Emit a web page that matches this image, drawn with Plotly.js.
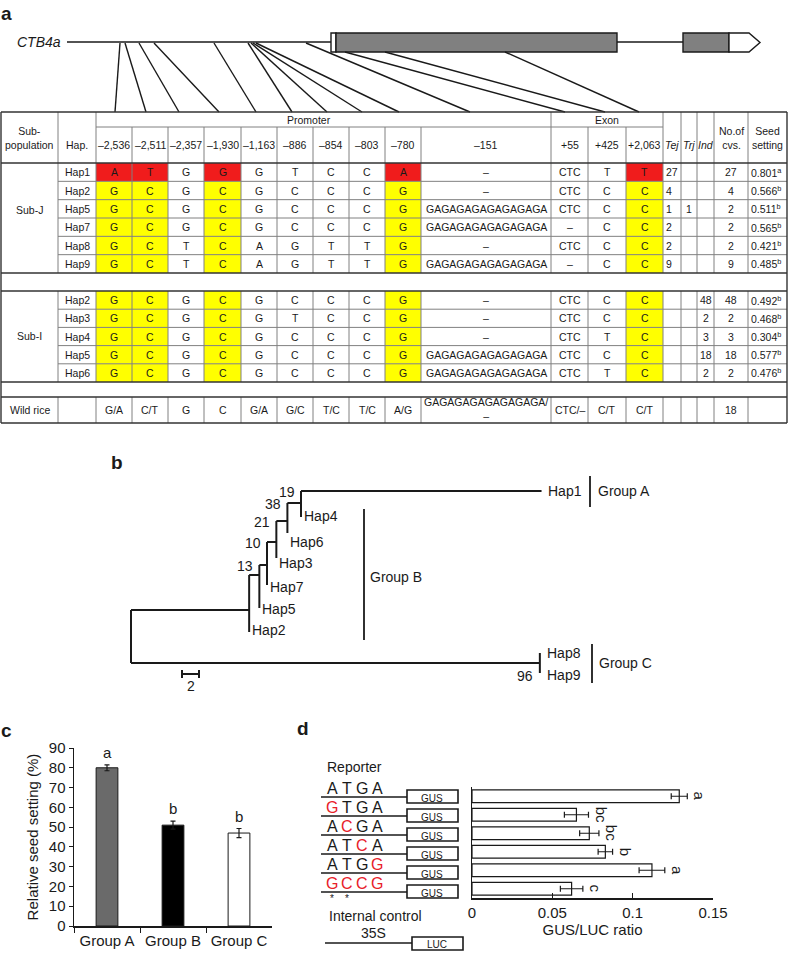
<!DOCTYPE html>
<html>
<head>
<meta charset="utf-8">
<script src="https://cdn.plot.ly/plotly-3.0.1.min.js"></script>
<style>html,body{margin:0;padding:0;background:#fff}#fig{width:788px;height:954px}</style>
</head>
<body>
<div id="fig"></div>
<script>
// ---------- a: haplotype table ----------
var sitePos = ["–2,536", "–2,511", "–2,357", "–1,930", "–1,163", "–886", "–854", "–803", "–780", "–151", "+55", "+425", "+2,063"];
var GA = "GAGAGAGAGAGAGAGA";
var keySites = [0, 1, 3, 8, 12];

var subJHap = ["Hap1", "Hap2", "Hap5", "Hap7", "Hap8", "Hap9"];
var subJAllele = [
  ["A", "T", "G", "G", "G", "T", "C", "C", "A", "–", "CTC", "T", "T"],
  ["G", "C", "G", "C", "G", "C", "C", "C", "G", "–", "CTC", "C", "C"],
  ["G", "C", "G", "C", "G", "C", "C", "C", "G", GA, "CTC", "C", "C"],
  ["G", "C", "G", "C", "G", "C", "C", "C", "G", GA, "–", "C", "C"],
  ["G", "C", "T", "C", "A", "G", "T", "T", "G", "–", "CTC", "C", "C"],
  ["G", "C", "T", "C", "A", "G", "T", "T", "G", GA, "–", "C", "C"]
];
var subJTej = [27, 4, 1, 2, 2, 9];
var subJTrj = [null, null, 1, null, null, null];
var subJInd = [null, null, null, null, null, null];
var subJCvs = [27, 4, 2, 2, 2, 9];
var subJSeed = [0.801, 0.566, 0.511, 0.565, 0.421, 0.485];
var subJSig = ["a", "b", "b", "b", "b", "b"];

var subIHap = ["Hap2", "Hap3", "Hap4", "Hap5", "Hap6"];
var subIAllele = [
  ["G", "C", "G", "C", "G", "C", "C", "C", "G", "–", "CTC", "C", "C"],
  ["G", "C", "G", "C", "G", "T", "C", "C", "G", "–", "CTC", "C", "C"],
  ["G", "C", "G", "C", "G", "C", "C", "C", "G", "–", "CTC", "T", "C"],
  ["G", "C", "G", "C", "G", "C", "C", "C", "G", GA, "CTC", "C", "C"],
  ["G", "C", "G", "C", "G", "C", "C", "C", "G", GA, "CTC", "T", "C"]
];
var subITej = [null, null, null, null, null];
var subITrj = [null, null, null, null, null];
var subIInd = [48, 2, 3, 18, 2];
var subICvs = [48, 2, 3, 18, 2];
var subISeed = [0.492, 0.468, 0.304, 0.577, 0.476];
var subISig = ["b", "b", "b", "b", "b"];

var wildAllele = ["G/A", "C/T", "G", "C", "G/A", "G/C", "T/C", "T/C", "A/G", GA + "/<br>–", "CTC/–", "C/T", "C/T"];
var wildCvs = 18;

// ---------- b: tree (branch lengths, bootstrap) ----------
var nodeDist = [20.0, 18.4, 17.1, 16.0, 15.1, 13.9, 0, 48.1];
var nodeBoot = ["19", "38", "21", "10", "13", "", "", "96"];
var nodeTip = ["Hap4", "Hap6", "Hap3", "Hap7", "Hap5", "Hap2"];
var hap1Dist = 48.3;

// ---------- c: seed setting ----------
var seedGroup = ["Group A", "Group B", "Group C"];
var seedMean = [80, 51, 47];
var seedErr = [1.5, 2.0, 2.3];
var seedLetter = ["a", "b", "b"];
var seedFill = ["#6a6a6a", "#000000", "#ffffff"];

// ---------- d: GUS/LUC ----------
var reporterSeq = ["ATGA", "GTGA", "ACGA", "ATCA", "ATGG", "GCCG"];
var gusLuc = [0.129, 0.065, 0.073, 0.083, 0.112, 0.062];
var gusLucErr = [0.005, 0.0075, 0.006, 0.0045, 0.008, 0.007];
var gusLucLetter = ["a", "bc", "bc", "b", "a", "c"];

// ======================================================================
var FONT = "'Liberation Sans', Arial, Helvetica, sans-serif";
var INK = "#1a1a1a", GRID = "#808080", RED = "#f01c1c", YEL = "#ffff00";
var shapes = [], ann = [];

function seg(x0, y0, x1, y1, w, c) {
  shapes.push({type: "line", xref: "x", yref: "y", x0: x0, y0: y0, x1: x1, y1: y1,
    line: {color: c || INK, width: w || 1}});
}
function box(x0, y0, x1, y1, fill, lw, layer) {
  shapes.push({type: "rect", xref: "x", yref: "y", x0: x0, y0: y0, x1: x1, y1: y1,
    fillcolor: fill, line: {color: lw ? INK : "rgba(0,0,0,0)", width: lw || 0}, layer: layer || "above"});
}
function txt(x, y, s, o) {
  o = o || {};
  ann.push({xref: o.xref || "x", yref: o.yref || "y", x: x, y: y, text: String(s), showarrow: false,
    xanchor: o.xa || "center", yanchor: o.ya || "middle", xshift: o.dx || 0, yshift: o.dy || 0,
    textangle: o.angle || 0, borderpad: 0,
    font: {family: FONT, size: o.size || 10.5, color: o.color || INK}});
}

// ---- a: gene model ----
txt(0, 13, "<b>a</b>", {xa: "left", size: 19});
txt(62, 42, "<i>CTB4a</i>", {xa: "right", size: 14});
seg(67, 42, 331, 42, 1.6);
seg(617, 42, 683, 42, 1.6);
box(331, 33, 336, 52, "#fff", 1.4);
box(336, 33, 617, 52, "#808080", 1.4);
box(683, 33, 729, 52, "#808080", 1.4);
shapes.push({type: "path", xref: "x", yref: "y", path: "M729,33 L749,33 L760,42.5 L749,52 L729,52 Z",
  fillcolor: "#fff", line: {color: INK, width: 1.4}});

var siteGeneX = [120, 125, 139, 154, 214, 248, 251, 253, 256, 306, 345, 385, 505];
var siteLineEnd = [115, 146, 179, 219, 256, 292, 327, 362, 399, 470, 565, 605, 639];
siteGeneX.forEach(function (gx, k) { seg(gx, gx >= 331 ? 52 : 43, siteLineEnd[k], 112, 1.4); });

// ---- a: table ----
var colX = [1, 58, 96, 132, 168, 204, 241, 277, 313, 349, 385, 421, 551, 588, 626, 663, 681, 697, 714, 748, 787];
var cc = colX.slice(0, -1).map(function (x, i) { return (x + colX[i + 1]) / 2; });
var T0 = 112, TM = 127, TH = 163;

// header
txt(cc[0], 138, "Sub-<br>population");
txt(cc[1], 145, "Hap.");
txt(309, 120, "Promoter");
txt(607, 120, "Exon");
sitePos.forEach(function (p, k) { txt(cc[2 + k], 145, p); });
txt(cc[15], 145, "<i>Tej</i>");
txt(cc[16], 145, "<i>Trj</i>");
txt(cc[17], 145, "<i>Ind</i>");
txt(cc[18], 138, "No.of<br>cvs.");
txt(cc[19], 138, "Seed<br>setting");
seg(colX[2], TM, colX[15], TM, 1, GRID);
[1, 2, 12, 15, 16, 17, 18, 19].forEach(function (k) { seg(colX[k], T0, colX[k], TH, 1, GRID); });
for (var k = 3; k < 15; k++) if (k !== 12) seg(colX[k], TM, colX[k], TH, 1, GRID);

function block(top, h, label, labelY, haps, alleles, tej, trj, ind, cvs, seed, sig) {
  var n = haps.length;
  txt(cc[0], labelY, label);
  for (var i = 0; i < n; i++) {
    var y0 = top + h * i, cy = y0 + h / 2;
    txt(cc[1], cy, haps[i]);
    alleles[i].forEach(function (a, k) {
      if (keySites.indexOf(k) >= 0)
        box(colX[2 + k], y0, colX[3 + k], y0 + h, a === subJAllele[0][k] ? RED : YEL, 0, "below");
      txt(cc[2 + k], cy, a);
    });
    if (tej[i] != null) txt(colX[15] + 2, cy, tej[i], {xa: "left"});
    if (trj[i] != null) txt(cc[16], cy, trj[i]);
    if (ind[i] != null) txt(cc[17], cy, ind[i]);
    txt(cc[18], cy, cvs[i]);
    txt(colX[19] + 2, cy, seed[i].toFixed(3) + "<sup>" + sig[i] + "</sup>", {xa: "left"});
    if (i > 0) seg(colX[1], y0, colX[20], y0, 1, GRID);
  }
  for (var c = 1; c < 20; c++) seg(colX[c], top, colX[c], top + n * h, 1, GRID);
}
block(TH, 110 / 6, "Sub-J", 210, subJHap, subJAllele, subJTej, subJTrj, subJInd, subJCvs, subJSeed, subJSig);
block(291, 91 / 5, "Sub-I", 336, subIHap, subIAllele, subITej, subITrj, subIInd, subICvs, subISeed, subISig);

// wild rice row
txt(cc[0], 410, "Wild rice");
wildAllele.forEach(function (a, k) { txt(cc[2 + k], k === 9 ? 409 : 410, a, {size: 10.5}); });
txt(cc[18], 410, wildCvs);
for (var c = 1; c < 20; c++) seg(colX[c], 397, colX[c], 423, 1, GRID);

[T0, TH, 273, 291, 382, 397, 423].forEach(function (y) { seg(colX[0], y, colX[20], y, 1.4, "#333"); });
seg(colX[0], T0, colX[0], 423, 1.4, "#333");
seg(colX[20], T0, colX[20], 423, 1.4, "#333");

// ---- b: tree ----
txt(117, 462, "<b>b</b>", {size: 19});
var nodeTop = [491, 503, 521, 542, 565, 575, 610, 653];
var nodeBot = [517, 533, 558, 585, 608, 632, 663, 673];
var tipY = [516, 542, 563, 587, 609, 630];
var tx = [], ty = [];
function tl(xa, ya, xb, yb) { tx.push(xa, xb, null); ty.push(ya, yb, null); }
nodeDist.forEach(function (d, i) { tl(d, nodeTop[i], d, nodeBot[i]); });
tl(nodeDist[0], nodeTop[0], hap1Dist, nodeTop[0]);
for (var i = 1; i <= 5; i++) tl(nodeDist[i], nodeTop[i], nodeDist[i - 1], nodeTop[i]);
tl(nodeDist[6], nodeTop[6], nodeDist[5], nodeTop[6]);
tl(nodeDist[6], nodeBot[6], nodeDist[7], nodeBot[6]);
// scale bar (2 units)
tl(6, 674, 8, 674); tl(6, 670, 6, 678); tl(8, 670, 8, 678);
txt(7, 686, "2", {xref: "x4", size: 14});

for (var i = 0; i < 5; i++) txt(nodeDist[i], nodeTop[i] + 1, nodeBoot[i], {xref: "x4", xa: "right", dx: -5, size: 14});
txt(nodeDist[7], 676, nodeBoot[7], {xref: "x4", xa: "right", dx: -6, size: 14});
nodeTip.forEach(function (h, i) { txt(nodeDist[i], tipY[i], h, {xref: "x4", xa: "left", dx: 2, size: 14}); });
txt(hap1Dist, nodeTop[0], "Hap1", {xref: "x4", xa: "left", dx: 5, size: 14});
txt(nodeDist[7], 653, "Hap8", {xref: "x4", xa: "left", dx: 6, size: 14});
txt(nodeDist[7], 675, "Hap9", {xref: "x4", xa: "left", dx: 6, size: 14});

seg(590, 476, 590, 507, 1.8);
txt(597, 491, "Group A", {xa: "left", size: 14});
seg(364, 509, 364, 640, 1.8);
txt(369, 577, "Group B", {xa: "left", size: 14});
seg(592, 644, 592, 683, 1.8);
txt(598, 663, "Group C", {xa: "left", size: 14});

// ---- c ----
txt(0, 730, "<b>c</b>", {xa: "left", size: 19});
seedLetter.forEach(function (l, i) {
  txt(seedGroup[i], seedMean[i] + seedErr[i], l, {xref: "x2", yref: "y2", ya: "bottom", dy: 3, size: 15});
});

// ---- d: constructs ----
txt(303, 728, "<b>d</b>", {size: 19});
txt(326, 767, "Reporter", {xa: "left", size: 14});
reporterSeq.forEach(function (s, i) {
  var ly = 797 + 19 * i;
  s.split("").forEach(function (ch, j) {
    txt(332 + 15 * j, ly - 9, ch, {size: 16, color: ch === reporterSeq[0][j] ? INK : "#e8202a"});
  });
  seg(321, ly, 407, ly, 1.6);
  box(407, ly - 7, 458, ly + 6, "#fff", 1.6);
  txt(432, ly + 1, "GUS", {size: 10});
});
txt(332, 898, "*", {size: 10});
txt(347, 898, "*", {size: 10});
txt(328, 916, "Internal control", {xa: "left", size: 14});
txt(373, 933, "35S", {size: 14});
seg(325, 943, 412, 943, 1.6);
box(412, 937, 463, 950, "#fff", 1.6);
txt(437, 944, "LUC", {size: 10});
gusLucLetter.forEach(function (l, i) {
  txt(gusLuc[i] + gusLucErr[i], reporterSeq[i], l, {xref: "x3", yref: "y3", xa: "left", dx: 3, angle: 90, size: 15});
});

// ---------- traces ----------
var traces = [
  {type: "scatter", mode: "lines", x: tx, y: ty, xaxis: "x4", yaxis: "y",
    line: {color: INK, width: 2}, hoverinfo: "skip", connectgaps: false},
  {type: "bar", x: seedGroup, y: seedMean, xaxis: "x2", yaxis: "y2", width: 0.33,
    marker: {color: seedFill, line: {color: INK, width: 1}},
    error_y: {type: "data", array: seedErr, color: INK, thickness: 1.2, width: 2.5}},
  {type: "bar", orientation: "h", x: gusLuc, y: reporterSeq, xaxis: "x3", yaxis: "y3", width: 0.68,
    marker: {color: "#fff", line: {color: INK, width: 1.2}},
    error_x: {type: "data", array: gusLucErr, color: INK, thickness: 1.2, width: 3}}
];

var axFont = {family: FONT, size: 15, color: INK};
var layout = {
  width: 788, height: 954, margin: {l: 0, r: 0, t: 0, b: 0},
  paper_bgcolor: "#fff", plot_bgcolor: "rgba(0,0,0,0)", showlegend: false,
  font: {family: FONT, color: INK},
  xaxis: {domain: [0, 1], range: [0, 788], visible: false},
  yaxis: {domain: [0, 1], range: [954, 0], visible: false},
  xaxis4: {domain: [0, 1], range: [-131 / 8.5, (788 - 131) / 8.5], overlaying: "x", anchor: "y", visible: false},
  xaxis2: {domain: [74 / 788, 272 / 788], anchor: "y2", type: "category", range: [-0.5, 2.5],
    showline: true, linecolor: INK, linewidth: 1.5, ticks: "outside", tickson: "boundaries", ticklen: 5,
    tickcolor: INK, tickfont: axFont, showgrid: false, zeroline: false},
  yaxis2: {domain: [28 / 954, 206 / 954], anchor: "x2", range: [0, 90], dtick: 10,
    showline: true, linecolor: INK, linewidth: 1.5, ticks: "outside", ticklen: 4, tickcolor: INK,
    tickfont: axFont, showgrid: false, zeroline: false,
    title: {text: "Relative seed setting (%)", font: axFont, standoff: 6}},
  xaxis3: {domain: [472 / 788, 713 / 788], anchor: "y3", range: [0, 0.15],
    tickvals: [0, 0.05, 0.1, 0.15], ticktext: ["0", "0.05", "0.1", "0.15"],
    showline: true, linecolor: INK, linewidth: 1.5, ticks: "inside", ticklen: 5, tickcolor: INK,
    tickfont: axFont, showgrid: false, zeroline: false,
    title: {text: "GUS/LUC ratio", font: axFont, standoff: 4}},
  yaxis3: {domain: [56 / 954, 167 / 954], anchor: "x3", type: "category", range: [5.5, -0.5],
    showline: true, linecolor: INK, linewidth: 1.5, showticklabels: false, ticks: "", showgrid: false},
  shapes: shapes, annotations: ann
};

Plotly.newPlot("fig", traces, layout, {displayModeBar: false, staticPlot: true});
</script>
</body>
</html>
